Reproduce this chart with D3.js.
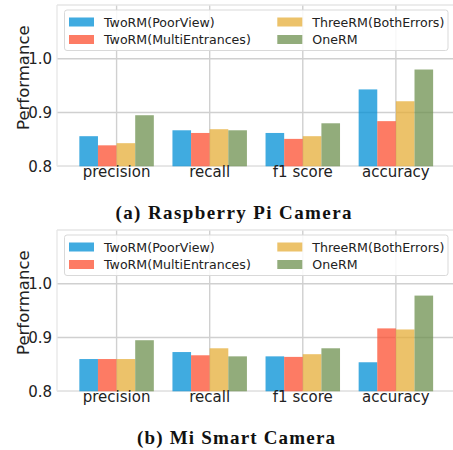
<!DOCTYPE html>
<html><head><meta charset="utf-8">
<script src="https://cdn.jsdelivr.net/npm/d3@7"></script>
<style>body{margin:0;background:#fff}svg{display:block}</style>
</head><body>
<script>
const categories = ["precision", "recall", "f1 score", "accuracy"];
const seriesNames = ["TwoRM(PoorView)", "TwoRM(MultiEntrances)", "ThreeRM(BothErrors)", "OneRM"];
const colors = ["#008fd5", "#fc4f30", "#e5ae38", "#6d904f"];
const yTicks = [0.8, 0.9, 1.0];
// Panel (a) Raspberry Pi Camera
const rpiValues = [
  [0.856, 0.867, 0.862, 0.943],
  [0.839, 0.862, 0.851, 0.884],
  [0.843, 0.869, 0.856, 0.921],
  [0.895, 0.867, 0.880, 0.980]
];
// Panel (b) Mi Smart Camera
const miValues = [
  [0.860, 0.873, 0.865, 0.854],
  [0.860, 0.867, 0.864, 0.917],
  [0.860, 0.880, 0.869, 0.915],
  [0.895, 0.865, 0.880, 0.978]
];
const captions = ["(a) Raspberry Pi Camera", "(b) Mi Smart Camera"];

const W = 453, H = 450;
const svg = d3.select("body").append("svg").attr("width", W).attr("height", H);

function panel(values, caption, oy, capWidth, capX) {
  const g = svg.append("g").attr("transform", `translate(0,${oy})`);
  const left = 57, top = 5, bottom = 166.3;
  const x = d3.scaleLinear().domain([-0.64, 3.64]).range([left, left + 4.28 * 93.1]);
  const y = d3.scaleLinear().domain([0.8, 1.1]).range([bottom, top]);
  const bw = 0.2;
  g.selectAll(".hg").data(yTicks).join("line")
    .attr("x1", left).attr("x2", W).attr("y1", d => y(d)).attr("y2", d => y(d))
    .attr("stroke", "#d0d0d0").attr("stroke-width", 1.4);
  g.selectAll(".vg").data(categories).join("line")
    .attr("x1", (d, i) => x(i)).attr("x2", (d, i) => x(i)).attr("y1", top).attr("y2", bottom)
    .attr("stroke", "#d0d0d0").attr("stroke-width", 1.4);
  g.append("line").attr("x1", left).attr("x2", left).attr("y1", top).attr("y2", bottom).attr("stroke", "#e6e6e6").attr("stroke-width", 1.3);
  g.append("line").attr("x1", left).attr("x2", W).attr("y1", top).attr("y2", top).attr("stroke", "#e6e6e6").attr("stroke-width", 1.3);
  g.append("line").attr("x1", left).attr("x2", W).attr("y1", bottom).attr("y2", bottom).attr("stroke", "#e6e6e6").attr("stroke-width", 1.3);
  values.forEach((vals, s) => {
    g.selectAll(".b" + s).data(vals).join("rect")
      .attr("x", (d, i) => x(i + (s - 2) * bw))
      .attr("width", x(bw) - x(0))
      .attr("y", d => y(d))
      .attr("height", d => y(0.8) - y(d))
      .attr("fill", colors[s]).attr("fill-opacity", 0.75);
  });
  g.selectAll(".yt").data(yTicks).join("text")
    .attr("x", 52).attr("y", d => y(d)).attr("dy", "0.36em")
    .attr("text-anchor", "end").attr("font-family", "DejaVu Sans").attr("font-size", 15)
    .attr("fill", "#222").text(d => d.toFixed(1));
  g.selectAll(".xt").data(categories).join("text")
    .attr("x", (d, i) => x(i)).attr("y", 176.5)
    .attr("text-anchor", "middle").attr("font-family", "DejaVu Sans").attr("font-size", 15)
    .attr("fill", "#222").text(d => d);
  g.append("text").attr("transform", `translate(29,${(top + bottom) / 2 - 8}) rotate(-90)`)
    .attr("text-anchor", "middle").attr("font-family", "DejaVu Sans").attr("font-size", 16.5)
    .attr("fill", "#222").text("Performance");
  const lg = g.append("g");
  lg.append("rect").attr("x", 64.5).attr("y", 10).attr("width", 383.5).attr("height", 40.5)
    .attr("rx", 2.5).attr("fill", "#fff").attr("fill-opacity", 0.85)
    .attr("stroke", "#d9d9d9").attr("stroke-width", 1);
  const lx = [69, 277.3], ly = [22, 39.5];
  seriesNames.forEach((name, s) => {
    const col = s === 0 || s === 1 ? 0 : 1;
    const row = s === 0 || s === 2 ? 0 : 1;
    lg.append("rect").attr("x", lx[col]).attr("y", ly[row] - 4.5).attr("width", 25).attr("height", 9)
      .attr("fill", colors[s]).attr("fill-opacity", 0.75);
    lg.append("text").attr("x", lx[col] + 35).attr("y", ly[row]).attr("dy", "0.36em")
      .attr("font-family", "DejaVu Sans").attr("font-size", 12.6).attr("fill", "#222").text(name);
  });
  svg.append("text").attr("x", capX).attr("y", oy + 218.5).attr("text-anchor", "middle")
    .attr("font-family", "Liberation Serif").attr("font-weight", "bold").attr("font-size", 19)
    .attr("textLength", capWidth).attr("lengthAdjust", "spacing")
    .attr("fill", "#111").text(caption);
}
panel(rpiValues, captions[0], 0, 236, 233.5);
panel(miValues, captions[1], 225, 198, 236);
</script>
</body></html>
